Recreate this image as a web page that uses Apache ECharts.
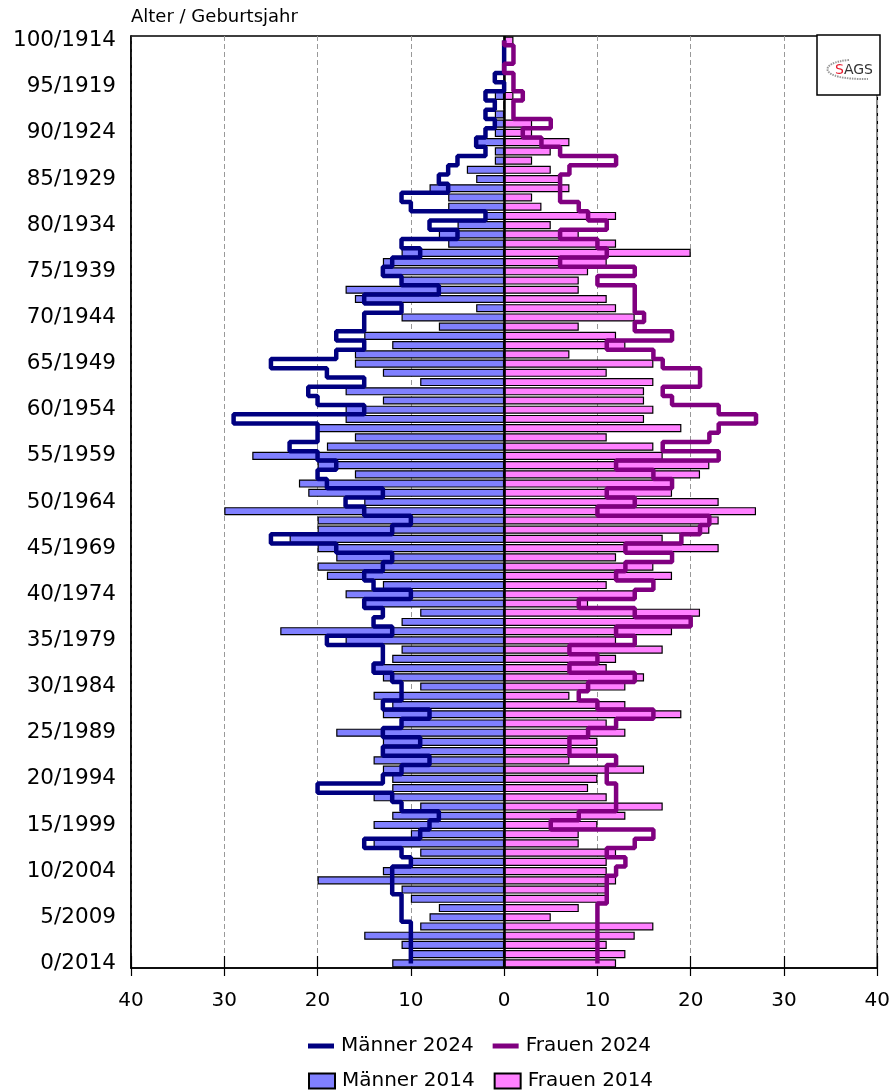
<!DOCTYPE html>
<html>
<head>
<meta charset="utf-8">
<script src="https://cdn.jsdelivr.net/npm/echarts@6/dist/echarts.min.js"></script>
<style>
html,body{margin:0;padding:0;background:#fff;}
#chart{width:893px;height:1092px;}
</style>
</head>
<body>
<div id="chart"></div>
<script>
// Ages 0..100 (index = age); birth year = 2014 - age
const ages = [];
for (let a = 0; a <= 100; a++) ages.push(a);
const categories = ages.map(a => a + '/' + (2014 - a));

// Männer 2014 (bars), index = age
const maenner2014 = [12,10,11,15,9,8,7,10,11,20, 13,10,9,14,10,14,12,9,14,12,
  12,13,14,13,13,18,11,13,12,14, 9,13,14,12,11,17,24,11,9,15,
  17,13,19,20,18,20,23,20,20,30, 15,21,22,16,20,27,19,16,20,17,
  17,13,17,9,13,16,16,12,15,7, 11,3,16,17,11,13,13,11,6,7,
  5,2,6,6,8,3,4,1,1,3, 1,1,1,0,1,0,0,0,0,0, 0];
// Frauen 2014 (bars)
const frauen2014 = [12,13,11,14,16,5,8,11,11,12, 11,11,12,8,8,10,13,17,11,9,
  10,15,7,10,10,13,11,19,13,7, 13,15,11,12,17,12,18,20,21,9,
  14,11,18,16,12,23,17,22,23,27, 23,18,18,21,22,17,16,11,19,15,
  16,15,15,16,11,16,7,13,12,8, 14,12,11,8,8,9,11,20,12,8,
  5,12,4,3,7,6,5,3,5,7, 3,3,0,0,1,0,0,0,0,0, 1];
// Männer 2024 (step line)
const maenner2024 = [10,10,10,10,10,11,11,11,12,12, 12,10,11,15,9,8,7,11,12,20,
  13,11,8,13,9,13,11,8,13,11, 11,12,14,13,13,19,12,14,13,15,
  10,14,15,13,12,18,25,12,10,15, 17,13,19,20,18,20,23,20,20,29,
  15,20,21,15,19,25,18,15,18,15, 15,11,15,7,11,13,12,9,11,5,
  8,2,10,11,6,7,6,5,2,3, 2,1,2,1,2,0,1,0,0,0, 0];
// Frauen 2024 (step line)
const frauen2024 = [10,10,10,10,10,10,10,11,11,11, 12,13,11,14,16,5,8,12,12,12,
  11,11,12,7,7,9,12,16,10,8, 9,14,7,10,7,14,12,20,14,8,
  14,16,12,13,18,13,19,21,22,10, 14,11,18,16,12,23,17,22,23,27,
  23,18,17,21,21,17,16,11,18,14, 15,14,14,14,10,14,6,11,10,6,
  11,9,8,6,6,6,7,12,6,4, 2,5,1,1,2,1,1,0,1,1, 0];

const xTicks = [-40,-30,-20,-10,0,10,20,30,40];

const FONT = '"DejaVu Sans", Verdana, sans-serif';
const chart = echarts.init(document.getElementById('chart'), null, {renderer: 'canvas'});

const barStyle = (c) => ({color: c, borderColor: '#000', borderWidth: 1.2});

const option = {
  backgroundColor: '#fff',
  animation: false,
  textStyle: {fontFamily: FONT, color: '#000'},
  grid: {left: 131, right: 13, top: 36, bottom: 124, show: true, borderColor: '#000', borderWidth: 1.5, containLabel: false},
  xAxis: [{
    type: 'value', min: xTicks[0], max: xTicks[xTicks.length-1], interval: 10,
    axisLine: {show: true, lineStyle: {color: '#000', width: 1.5}},
    axisTick: {show: true, length: 8, lineStyle: {color: '#000', width: 1.2}},
    axisLabel: {fontSize: 20, color: '#000', fontFamily: FONT, margin: 23, formatter: v => Math.abs(v)},
    splitLine: {show: true, lineStyle: {color: '#999', type: [5, 3], width: 1}}
  }, {
    type: 'value', min: xTicks[0], max: xTicks[xTicks.length-1], interval: 10, position: 'bottom',
    axisLine: {show: false},
    axisTick: {show: true, inside: true, length: 12, lineStyle: {color: '#000', width: 1.2}},
    axisLabel: {show: false}, splitLine: {show: false}
  }],
  yAxis: {
    type: 'category', data: categories,
    axisLine: {show: true, onZero: false, lineStyle: {color: '#000', width: 1.5}},
    axisTick: {show: false},
    axisLabel: {interval: 4, fontSize: 21.5, color: '#000', fontFamily: FONT, margin: 15},
    splitLine: {show: false}
  },
  legend: [{
    left: 303, top: 1031, orient: 'horizontal', itemWidth: 26, itemHeight: 5, itemGap: 19,
    icon: 'rect',
    textStyle: {fontSize: 20, fontFamily: FONT, color: '#000', padding: [0,0,0,2]},
    data: ['Männer 2024', 'Frauen 2024']
  }, {
    left: 303, top: 1066, orient: 'horizontal', itemWidth: 26, itemHeight: 15, itemGap: 19,
    icon: 'rect',
    textStyle: {fontSize: 20, fontFamily: FONT, color: '#000', padding: [0,0,0,2]},
    data: ['Männer 2014', 'Frauen 2014']
  }],
  series: [
    {
      name: 'Männer 2014', type: 'bar', data: maenner2014.map(v => -v),
      barWidth: '88%', barGap: '-100%', itemStyle: barStyle('#8080ff'), z: 2,
      markLine: {silent: true, symbol: ['none','none'], label: {show: false},
        lineStyle: {color: '#000', width: 2.5, type: 'solid'}, data: [{xAxis: 0}]}
    },
    {
      name: 'Frauen 2014', type: 'bar', data: frauen2014,
      barWidth: '88%', barGap: '-100%', itemStyle: barStyle('#ff80ff'), z: 2
    },
    {
      name: 'Männer 2024', type: 'line', data: maenner2024.map(v => -v), step: 'middle',
      symbol: 'none', lineStyle: {color: '#000080', width: 4.5}, itemStyle: {color: '#000080'}, z: 5
    },
    {
      name: 'Frauen 2024', type: 'line', data: frauen2024, step: 'middle',
      symbol: 'none', lineStyle: {color: '#800080', width: 4.5}, itemStyle: {color: '#800080'}, z: 5
    }
  ],
  graphic: [
    {type: 'text', x: 131, y: 8, style: {text: 'Alter / Geburtsjahr', fontSize: 18, fontFamily: FONT, fill: '#000'}},
    {type: 'rect', x: 817, y: 35, z: 100, shape: {x: 0, y: 0, width: 63, height: 60}, style: {fill: '#fff', stroke: '#000', lineWidth: 1.5}},
    {type: 'bezierCurve', x: 817, y: 35, z: 101, shape: {x1: 32, y1: 25, cpx1: 2, cpy1: 27, cpx2: -1, cpy2: 45, x2: 51, y2: 44}, style: {fill: 'none', stroke: '#999', lineWidth: 2, lineDash: [1.5, 1]}},
    {type: 'text', x: 835, y: 70, z: 102, style: {text: '{r|S}{g|AGS}', verticalAlign: 'middle', rich: {r: {fill: '#e8192c', fontSize: 14, fontFamily: FONT}, g: {fill: '#333', fontSize: 14, fontFamily: FONT}}}}
  ]
};
chart.setOption(option);
</script>
</body>
</html>
